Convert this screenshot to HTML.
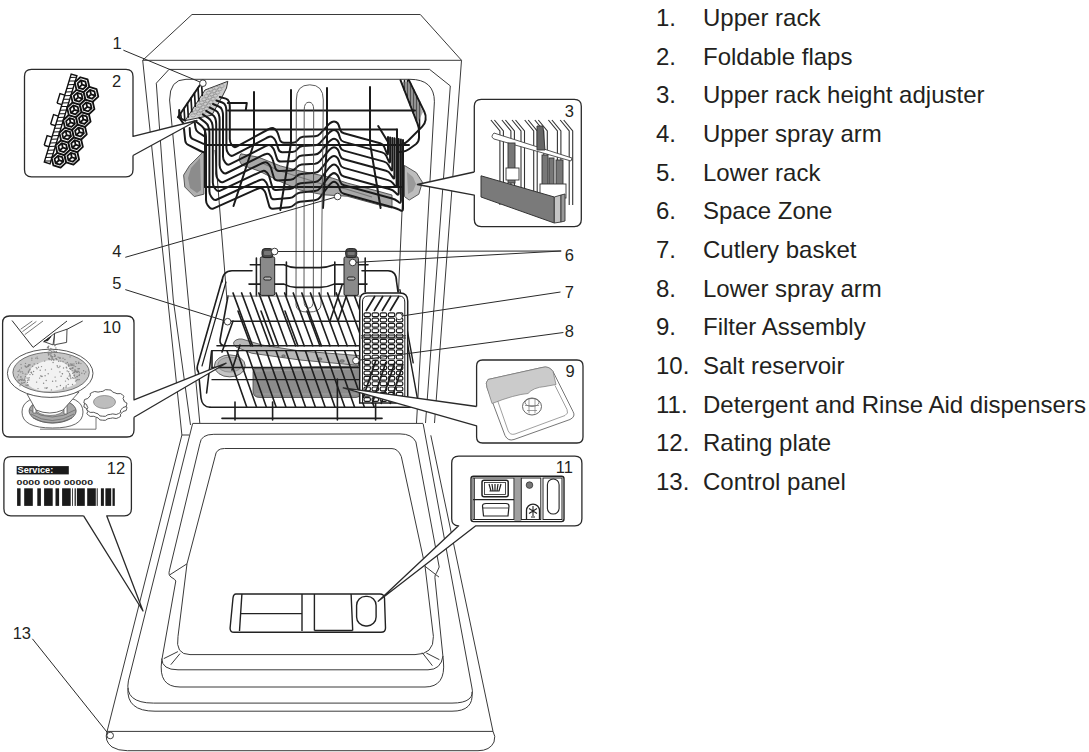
<!DOCTYPE html>
<html><head><meta charset="utf-8">
<style>
html,body{margin:0;padding:0;background:#fff;}
body{width:1089px;height:752px;overflow:hidden;position:relative;font-family:"Liberation Sans",sans-serif;}
svg{position:absolute;left:0;top:0;}
</style></head><body>
<svg width="1089" height="752" viewBox="0 0 1089 752">

<g id="body" fill="none" stroke="#3a3a3a" stroke-width="1">
<path d="M192,14.5 L420.3,14.5 L461.5,60.3 L142.7,60.3 Z"/>
<path d="M156.3,83.2 L169,69.4 L429.6,69.4 L450.3,85.9"/>
<path d="M169.6,100 Q169.6,79.3 186,79.3 L409.9,79.3 Q434.4,79.3 434.4,101.8"/>
<path d="M142.7,60.3 L181.9,435"/>
<path d="M156.3,83.2 L162.5,170 L173.3,300 L190.5,425"/>
<path d="M169.6,100 L199.8,423"/>
<path d="M461.5,60.3 L434.5,423"/>
<path d="M450.3,85.9 L425.5,423"/>
<path d="M434.4,101.8 L416.5,423"/>
<path d="M215,150 L227,300"/>
<path d="M404,165 L398.5,292"/>
</g>

<g id="door" fill="none" stroke="#3a3a3a" stroke-width="1">
<path d="M182,435 L189.2,435"/>
<path d="M192.6,423.4 L423.2,423.4"/>
<path d="M181.9,435 L107.1,731.4 Q104,741 112,747 Q118,750.7 127.4,750.7 L478,750.7 Q490,750.7 494,742 Q496,736 493,731.4 L430.8,435.3"/>
<path d="M107.1,731.4 L493,731.4"/>
<path d="M192.6,423.6 L128.4,680.9 Q124,703.1 153.6,703.1 L452,703.1 Q476,703.1 471.8,687 L423.2,424"/>
<path d="M128,688 Q126,711.2 155,711.2 L452,711.2 Q474,711.2 472,692"/>
<path d="M213.8,434.3 Q201,434.3 199.9,443.6 L169.5,570.2 Q168,575 171,577 Q175.8,579.8 175.8,581 L161.7,660.7 Q158,687 180,687 L425,687 Q446,687 443.4,661 L434.9,577.5 Q434.5,575 437,572 L439.2,567 L415.9,441.9 Q412,433.9 400,433.9 Z"/>
<path d="M224.5,448.5 Q216,448.5 215.2,456.2 L187,563.8 L178,636.4 Q175,654.6 190,654.6 L415,654.6 Q434,654.6 433.4,636.4 L425,566 L401.3,456.5 Q398,448.6 392,448.6 Z"/>
<path d="M161.7,658.6 Q162,669.8 178,669.8 L428,669.8 Q441,669.8 443,656"/>
<path d="M187,563.8 L169.5,575"/>
<path d="M163.8,658.6 L177.9,651.6 M170.8,664.7 L180,653.6"/>
<path d="M425,566.3 L439,577.1"/>
<path d="M422.2,652.6 L432.4,665.7 M426.3,653 L439.4,659.7"/>
</g>
<g fill="none" stroke="#222" stroke-width="1.4">
<path d="M236,594 L380,594 Q384,594 384.5,598 L385.5,628 Q385.5,632.3 381,632.3 L234,632.3 Q230,632.3 230.1,628 L233,598 Q233.5,594 236,594 Z"/>
<path d="M241.9,594 L239.5,631 M302,594 L302,631 M241,613.6 L302,613.6 M314.4,594 L314.4,630.5 M351.1,594 L352.7,630.5 M314.4,630.5 L352.7,630.5"/>
<rect x="356.6" y="596.4" width="19.5" height="29.6" rx="9"/>
</g>

<g id="sprayarm" stroke="#4a4a4a" stroke-width="0.9" fill="#a8a8a8" stroke-linejoin="round">
<path d="M240.9,153.8 L258.8,157.3 L280.3,165.9 L300,171 L323.3,175.8 L332.8,178.2 L347.1,183 L378.2,191.2 L392,195 L392,208 L378.2,204.7 L347.1,196.2 L323.3,194.8 L300,190 L280.3,181.6 L258.8,170.9 L242,165.1 Q237,159 240.9,153.8 Z"/>
<path d="M262,163 L280,171 L322,184 L346,189 L372,197" fill="none" stroke="#777" stroke-width="1.2"/>
<path d="M203.9,151.2 L189.6,165.5 L183.6,175.1 L184.8,187 L194.3,196.6 L203.9,194.2 Z" fill="#b0b0b0"/>
<path d="M200,158 L191,168 L188,178 L190,188 L197,193 L201,190 Z" fill="#8c8c8c" stroke="none"/>
<path d="M404.5,165.5 L416.4,172.7 L422.4,182.2 L418.8,194.2 L409.2,200.1 L404.5,196.6 Z" fill="#bdbdbd"/>
<path d="M407,172 L413,177 L416,184 L413,191 L408,194 Z" fill="#9a9a9a" stroke="none"/>
</g>
<path d="M185.2,120.6 L205,90 L227.8,81.3 L226.5,88 L222,97 L217,106 L211.8,115.2 Z" fill="#cdcdcd" stroke="#333" stroke-width="1"/>
<g fill="none" stroke="#8a8a8a" stroke-width="0.6"><ellipse cx="193.1" cy="115.4" rx="2.4" ry="1.5"/><ellipse cx="198.6" cy="113.6" rx="2.4" ry="1.5"/><ellipse cx="204.1" cy="111.8" rx="2.4" ry="1.5"/><ellipse cx="195.3" cy="112.2" rx="2.4" ry="1.5"/><ellipse cx="200.8" cy="110.4" rx="2.4" ry="1.5"/><ellipse cx="206.3" cy="108.6" rx="2.4" ry="1.5"/><ellipse cx="197.6" cy="108.9" rx="2.4" ry="1.5"/><ellipse cx="203.1" cy="107.1" rx="2.4" ry="1.5"/><ellipse cx="208.6" cy="105.3" rx="2.4" ry="1.5"/><ellipse cx="199.8" cy="105.7" rx="2.4" ry="1.5"/><ellipse cx="205.3" cy="103.9" rx="2.4" ry="1.5"/><ellipse cx="210.8" cy="102.1" rx="2.4" ry="1.5"/><ellipse cx="202.0" cy="102.5" rx="2.4" ry="1.5"/><ellipse cx="207.5" cy="100.7" rx="2.4" ry="1.5"/><ellipse cx="213.0" cy="98.9" rx="2.4" ry="1.5"/><ellipse cx="204.2" cy="99.3" rx="2.4" ry="1.5"/><ellipse cx="209.7" cy="97.5" rx="2.4" ry="1.5"/><ellipse cx="215.2" cy="95.7" rx="2.4" ry="1.5"/><ellipse cx="206.4" cy="96.1" rx="2.4" ry="1.5"/><ellipse cx="211.9" cy="94.3" rx="2.4" ry="1.5"/><ellipse cx="217.4" cy="92.5" rx="2.4" ry="1.5"/><ellipse cx="208.7" cy="92.8" rx="2.4" ry="1.5"/><ellipse cx="214.2" cy="91.0" rx="2.4" ry="1.5"/><ellipse cx="219.7" cy="89.2" rx="2.4" ry="1.5"/><ellipse cx="210.9" cy="89.6" rx="2.4" ry="1.5"/><ellipse cx="216.4" cy="87.8" rx="2.4" ry="1.5"/><ellipse cx="221.9" cy="86.0" rx="2.4" ry="1.5"/></g>
<g id="urack" fill="none" stroke="#1a1a1a" stroke-width="2" stroke-linejoin="round" stroke-linecap="round">
<path d="M185.2,120.6 L177.9,117.2 L199.8,85.3 L205,82"/>
<path d="M180.5,113.4 L181.3,118.4 M184.0,108.3 L184.8,120.0 M187.5,103.2 L188.3,117.0 M191.0,98.1 L191.8,111.6 M194.5,93.0 L195.3,106.2 M198.0,87.9 L198.8,100.8 M201.5,82.8 L202.3,95.4" stroke-width="1.7"/>
<path d="M179.2,110 L179.2,117.7 L184.8,125.3"/>
<path d="M184.0,128.8 L185.2,140.5 Q185.5,143.5 188.2,144.8 L200.4,151.0 Q202.2,151.9 204.1,152.4 L206.0,153.0"/>
<path d="M189.7,128.1 L190.1,134.9 Q190.3,137.9 193.0,139.1 L201.4,142.8 Q202.9,143.5 204.4,144.0 L206.0,144.5"/>
<path d="M194.5,121.2 L195.5,127.9 Q195.9,130.9 198.4,132.5 L205.7,137.2"/>
<path d="M400.5,80.2 L417.5,123.7 Q419.0,127.4 419.0,131.4 L419.0,137.8 Q419.0,141.8 415.8,144.2 L408.8,149.2 Q406.0,151.3 402.5,151.7 L399.0,152.0"/>
<path d="M408.9,80.2 L424.4,111.9 Q426.2,115.5 425.6,119.5 L425.6,119.8 Q425.0,123.8 422.2,126.6 L408.1,140.8 Q405.9,143.0 402.9,144.0 L400.0,145.0"/>
<path d="M404.5,80.5 L404.5,90.4 M407.5,80.5 L407.5,98.0 M410.5,83.5 L410.5,105.7 M413.5,89.6 L413.5,113.3 M416.5,95.7 L416.5,121.0 M419.5,101.8 L419.5,128.7" stroke-width="1.6"/>
<path d="M402.5,82 L418,122 L423,112 L409,82 Z" fill="#777" stroke="none" opacity="0.6"/>
<path d="M378.2,126.1 L387.7,141.6"/>
<path d="M227.8,102.9 L246.8,102.9 L245.8,109.9"/>
<path d="M228,110.5 L415,110.5"/>
<path d="M205,129.5 L397,129.5"/>
<path d="M205,145 L409,145"/>
<path d="M205,187 L402,187"/>
<path d="M205,129.5 L205,187 M397,129.5 L397,187"/>
<path d="M219.8,97.0 L225.8,98.6 Q228.2,99.3 229.0,101.7 L229.0,101.7 Q229.8,104.0 229.8,106.5 L229.8,139.0 Q229.8,142.0 231.5,144.5 L232.3,145.5 Q234.0,148.0 236.6,146.6 L267.1,130.0 Q269.0,129.0 271.0,128.2 L271.0,128.2 Q273.0,127.5 274.6,128.9 L275.0,129.2 Q277.0,131.0 277.9,133.5 L280.0,140.0 Q281.0,142.8 284.0,142.8 L293.0,142.8 Q296.0,142.8 297.7,140.3 L298.3,139.5 Q300.0,137.0 303.0,136.8 L315.0,136.2 Q318.0,136.0 320.0,133.8 L328.5,124.6 Q330.0,123.0 332.0,122.0 L332.0,122.0 Q334.0,121.0 336.0,122.0 L336.0,122.0 Q338.0,123.0 338.7,125.1 L340.1,129.6 Q341.0,132.5 343.9,133.3 L380.1,143.2 Q383.0,144.0 384.2,146.8 L386.8,153.2 Q388.0,156.0 388.0,153.0 L388.0,137.0"/>
<path d="M216.4,100.5 L222.3,102.5 Q224.7,103.4 225.6,105.8 L225.6,105.8 Q226.4,108.3 226.4,110.9 L226.4,147.7 Q226.4,150.7 228.1,153.2 L229.0,154.3 Q230.7,156.8 233.4,155.4 L265.4,138.6 Q267.3,137.6 269.3,136.8 L269.3,136.8 Q271.3,136.1 272.9,137.5 L273.3,137.8 Q275.3,139.6 276.1,142.1 L278.5,149.4 Q279.4,152.3 282.4,152.2 L292.4,152.0 Q295.4,152.0 297.2,149.5 L297.8,148.7 Q299.6,146.3 302.6,146.1 L315.0,145.3 Q318.0,145.1 320.0,142.9 L328.5,133.4 Q330.0,131.7 332.0,130.6 L332.0,130.6 Q334.0,129.6 336.0,130.6 L336.0,130.6 Q338.0,131.7 338.7,133.9 L340.1,138.3 Q341.0,141.1 343.9,141.9 L382.1,152.4 Q385.0,153.2 386.3,155.9 L388.8,161.3 Q390.1,164.0 390.1,161.0 L390.1,137.4"/>
<path d="M213.0,104.0 L218.8,106.5 Q221.3,107.5 222.1,110.0 L222.1,110.0 Q223.0,112.6 223.0,115.2 L223.0,156.4 Q223.0,159.4 224.8,161.9 L225.7,163.1 Q227.4,165.6 230.1,164.2 L263.7,147.1 Q265.6,146.1 267.6,145.4 L267.6,145.4 Q269.6,144.6 271.2,146.0 L271.6,146.4 Q273.6,148.1 274.4,150.7 L277.0,158.9 Q277.9,161.7 280.9,161.6 L291.9,161.2 Q294.9,161.1 296.7,158.8 L297.3,157.9 Q299.1,155.6 302.1,155.4 L315.0,154.5 Q318.0,154.3 320.0,152.0 L328.5,142.2 Q330.0,140.4 332.0,139.3 L332.0,139.3 Q334.0,138.1 336.0,139.3 L336.0,139.3 Q338.0,140.4 338.7,142.6 L340.1,146.9 Q341.0,149.8 343.9,150.6 L384.1,161.6 Q387.0,162.4 388.5,165.1 L390.8,169.3 Q392.3,171.9 392.3,168.9 L392.3,137.9"/>
<path d="M209.6,107.5 L215.4,110.4 Q217.8,111.6 218.7,114.2 L218.7,114.2 Q219.6,116.9 219.6,119.6 L219.6,165.1 Q219.6,168.1 221.4,170.6 L222.4,171.9 Q224.1,174.4 226.8,173.0 L261.9,155.7 Q263.9,154.7 265.9,154.0 L265.9,154.0 Q267.9,153.2 269.5,154.6 L269.9,155.0 Q271.9,156.7 272.6,159.3 L275.4,168.3 Q276.3,171.2 279.3,171.0 L291.3,170.5 Q294.3,170.3 296.2,168.0 L296.8,167.2 Q298.7,164.9 301.7,164.6 L315.0,163.7 Q318.0,163.4 319.9,161.1 L328.5,150.9 Q330.0,149.1 332.0,147.9 L332.0,147.9 Q334.0,146.7 336.0,147.9 L336.0,147.9 Q338.0,149.1 338.7,151.4 L340.1,155.6 Q341.0,158.4 343.9,159.2 L386.1,170.8 Q389.0,171.6 390.6,174.2 L392.8,177.4 Q394.4,179.9 394.4,176.9 L394.4,138.3"/>
<path d="M206.2,110.9 L211.9,114.3 Q214.4,115.7 215.3,118.4 L215.3,118.4 Q216.2,121.1 216.2,124.0 L216.2,173.9 Q216.2,176.9 218.0,179.3 L219.1,180.7 Q220.9,183.1 223.6,181.8 L260.2,164.2 Q262.1,163.3 264.1,162.5 L264.1,162.5 Q266.1,161.8 267.8,163.2 L268.1,163.5 Q270.1,165.3 270.9,167.8 L273.9,177.8 Q274.7,180.6 277.7,180.4 L290.7,179.7 Q293.7,179.5 295.7,177.2 L296.3,176.4 Q298.3,174.1 301.3,173.9 L315.0,172.8 Q318.0,172.6 319.9,170.2 L328.5,159.7 Q330.0,157.9 332.0,156.6 L332.0,156.6 Q334.0,155.3 336.0,156.6 L336.0,156.6 Q338.0,157.9 338.7,160.1 L340.1,164.2 Q341.0,167.1 343.9,167.9 L388.1,180.1 Q391.0,180.9 392.9,183.2 L394.7,185.5 Q396.6,187.9 396.6,184.9 L396.6,138.7"/>
<path d="M202.8,114.4 L208.4,118.2 Q210.9,119.8 211.9,122.6 L211.9,122.6 Q212.8,125.4 212.8,128.4 L212.8,182.6 Q212.8,185.6 214.6,188.0 L215.8,189.5 Q217.6,191.9 220.3,190.7 L258.5,172.8 Q260.4,171.9 262.4,171.1 L262.4,171.1 Q264.4,170.4 266.0,171.8 L266.4,172.1 Q268.4,173.9 269.2,176.4 L272.3,187.2 Q273.1,190.1 276.1,189.9 L290.2,188.9 Q293.1,188.7 295.2,186.4 L295.8,185.7 Q297.9,183.4 300.8,183.2 L315.0,182.0 Q318.0,181.7 319.9,179.4 L328.5,168.5 Q330.0,166.6 332.0,165.2 L332.0,165.2 Q334.0,163.9 336.0,165.2 L336.0,165.2 Q338.0,166.6 338.8,168.9 L340.1,172.9 Q341.0,175.7 343.9,176.5 L390.1,189.3 Q393.0,190.1 395.1,192.2 L396.6,193.7 Q398.7,195.9 398.7,192.9 L398.7,139.1"/>
<path d="M199.4,117.9 L205.0,122.1 Q207.5,123.9 208.4,126.7 L208.4,126.9 Q209.4,129.7 209.4,132.7 L209.4,191.3 Q209.4,194.3 211.2,196.7 L212.5,198.3 Q214.3,200.7 217.0,199.5 L256.8,181.3 Q258.7,180.4 260.7,179.7 L260.7,179.7 Q262.7,178.9 264.3,180.3 L264.7,180.7 Q266.7,182.4 267.4,185.0 L270.8,196.7 Q271.6,199.5 274.6,199.3 L289.6,198.1 Q292.6,197.8 294.6,195.7 L295.4,194.9 Q297.4,192.7 300.4,192.4 L315.0,191.1 Q318.0,190.9 319.8,188.5 L328.5,177.2 Q330.0,175.3 332.0,173.9 L332.0,173.9 Q334.0,172.4 336.0,173.9 L336.0,173.9 Q338.0,175.3 338.8,177.6 L340.1,181.5 Q341.0,184.4 343.9,185.2 L392.1,198.5 Q395.0,199.3 397.4,201.1 L398.5,202.0 Q400.9,203.8 400.9,200.8 L400.9,139.6"/>
<path d="M196.0,121.4 L201.7,126.1 Q204.0,128.0 204.9,130.8 L205.1,131.2 Q206.0,134.0 206.0,137.0 L206.0,200.0 Q206.0,203.0 207.8,205.4 L209.2,207.1 Q211.0,209.5 213.7,208.3 L255.0,189.9 Q257.0,189.0 259.0,188.2 L259.0,188.2 Q261.0,187.5 262.6,188.9 L263.0,189.2 Q265.0,191.0 265.7,193.6 L269.2,206.1 Q270.0,209.0 273.0,208.7 L289.0,207.3 Q292.0,207.0 294.1,204.9 L294.9,204.1 Q297.0,202.0 300.0,201.7 L315.0,200.3 Q318.0,200.0 319.8,197.6 L328.5,186.0 Q330.0,184.0 332.0,182.5 L332.0,182.5 Q334.0,181.0 336.0,182.5 L336.0,182.5 Q338.0,184.0 338.8,186.4 L340.1,190.2 Q341.0,193.0 343.9,193.8 L394.1,207.7 Q397.0,208.5 399.6,209.9 L400.4,210.4 Q403.0,211.8 403.0,208.8 L403.0,140.0"/>
<path d="M254,92 L254,143 L233.5,206"/>
<path d="M291,90 L291,143 L280.3,210"/>
<path d="M327,88 L327,143 L323,208"/>
<path d="M370,87 L370,143 L380.6,208"/>
</g>
<g id="lgrey" stroke="#444" stroke-width="0.8">
<path d="M256,368 L356,366 Q360,366 360,370 L360,394 Q360,397.5 356,397.5 L260,397.5 Q253,397.5 253,391 L253,372 Q253,368 256,368 Z" fill="#8c8c8c"/>
<path d="M256,371 L357,369 M256,394 L357,394" stroke="#aaa" stroke-width="0.7" fill="none"/>
<path d="M236,340 Q231,343 236,347 L251.5,353.2 L300,360 L359.7,365.5 L359.7,355.6 L300,351 L262,345 L242,339 Q239,338.5 236,340 Z" fill="#b8b8b8"/>
<g fill="#888" stroke="#555" stroke-width="0.6"><ellipse cx="283.5" cy="356" rx="1.8" ry="1.2"/><ellipse cx="320" cy="359" rx="2" ry="1.2"/><ellipse cx="342" cy="361" rx="2.4" ry="1.3"/></g>
<ellipse cx="229.8" cy="365.9" rx="15.4" ry="11" fill="#c4c4c4"/>
<ellipse cx="229.8" cy="364.6" rx="12" ry="7.5" fill="#b0b0b0" stroke="#777" stroke-width="0.6"/>
</g>
<g fill="none" stroke="#4a4a4a" stroke-width="0.9">
<path d="M296.3,100 Q296.3,84.8 309.8,84.8 Q323.3,84.8 323.3,100 L321,305 Q320.6,312.1 308.3,312.1 Q296,312.1 296,305 Z"/>
<path d="M304.2,110 Q304.2,102.2 309,102.2 Q313.7,102.2 313.7,110 L313.3,300 Q313.3,308.1 308.6,308.1 Q304,308.1 304,300 Z"/>
</g>
<g id="lrack" fill="none" stroke="#1e1e1e" stroke-width="1.6" stroke-linejoin="round" stroke-linecap="round">
<path d="M222,282 Q222.5,270.7 232,270.7 L252,270.7 M362,270.7 L388,270.7 Q396.6,270.7 396.6,282 L398,292"/>
<path d="M222,280 L197.4,366 Q196.5,370 198.5,372 L201,398 Q202.3,407.3 210,407.3"/>
<path d="M226,282 L202,366" stroke-width="1.2"/>
<path d="M228,296 L220,340 Q219.5,345.8 226,345.8"/>
<path d="M226.9,321.2 L359.7,321.2"/>
<path d="M217,345.8 L359.7,345.8"/>
<path d="M212,350.7 L359.7,350.7" stroke-width="1.3"/>
<path d="M212,367.5 L359.7,367.5" stroke-width="1.3"/>
<path d="M212,379.7 L359.7,379.7" stroke-width="1.3"/>
<path d="M210,407.3 L410,407.3"/>
<path d="M222,418.4 L382,418.4"/>
<path d="M212,350.7 L212,368"/>
<path d="M337.4,379 L337.4,420 M235,402 L235,420 M272.6,402 L272.6,420 M375.6,400 L375.6,420"/>
<path d="M250.3,264.8 L284,264.8 Q290,267.6 296,267.6 L320,267.6 Q327,267.6 334,264.8 L368,264.8"/>
<path d="M249,284.1 L284,284.1 Q290,287.4 296,287.4 L320,287.4 Q327,287.4 334,284.1 L367,284.1"/>
<path d="M256.4,258 L256.4,296 M286.4,262 L286.4,296 M334.8,262 L334.8,296 M365.2,258 L365.2,292"/>
<path d="M226.9,296.1 L359.7,296.1" stroke="#666" stroke-width="1"/>
<path d="M233.0,292.9 L252.6,345.8"/>
<path d="M241.6,292.9 L261.2,345.8"/>
<path d="M250.2,292.9 L269.8,345.8"/>
<path d="M258.8,292.9 L278.4,345.8"/>
<path d="M267.4,292.9 L287.0,345.8"/>
<path d="M276.0,292.9 L295.6,345.8"/>
<path d="M284.6,292.9 L304.2,345.8"/>
<path d="M293.2,292.9 L312.8,345.8"/>
<path d="M301.8,292.9 L321.4,345.8"/>
<path d="M310.4,292.9 L330.0,345.8"/>
<path d="M319.0,292.9 L338.6,345.8"/>
<path d="M327.6,292.9 L347.2,345.8"/>
<path d="M336.2,292.9 L355.8,345.8"/>
<path d="M344.8,292.9 L364.4,345.8"/>
<path d="M353.4,292.9 L373.0,345.8"/>
<path d="M238.0,311 L250.9,345.8"/>
<path d="M261.0,311 L273.9,345.8"/>
<path d="M285.0,311 L297.9,345.8"/>
<path d="M307.0,311 L319.9,345.8"/>
<path d="M227.0,350.7 L246.8,407.3"/>
<path d="M236.8,350.7 L256.6,407.3"/>
<path d="M246.6,350.7 L266.4,407.3"/>
<path d="M256.4,350.7 L276.2,407.3"/>
<path d="M266.2,350.7 L286.0,407.3"/>
<path d="M276.0,350.7 L295.8,407.3"/>
<path d="M285.8,350.7 L305.6,407.3"/>
<path d="M295.6,350.7 L315.4,407.3"/>
<path d="M305.4,350.7 L325.2,407.3"/>
<path d="M315.2,350.7 L335.0,407.3"/>
<path d="M325.0,350.7 L344.8,407.3"/>
<path d="M334.8,350.7 L354.6,407.3"/>
<path d="M344.6,350.7 L364.4,407.3"/>
<path d="M354.4,350.7 L374.2,407.3"/>
<path d="M330,321 L342,285"/>
<path d="M338,321 L350,285"/>
<path d="M233,321 L222,352"/>
<path d="M240,345 L232,370"/>
<path d="M399.9,289.7 L413.2,362.9 M404.9,329.7 L418.2,402.8 L410,407.3" stroke-width="1.4"/>
<path d="M211.6,351 L206.6,393"/>
</g>
<g stroke="#222" stroke-width="1"><rect x="260.3" y="256.9" width="14.4" height="38.5" rx="1.5" fill="#8a8a8a"/><rect x="262.0" y="248.6" width="11" height="9" rx="3" fill="#4a4a4a"/><rect x="264.0" y="251" width="7" height="4" rx="1" fill="#777" stroke="none"/><rect x="263.7" y="277" width="7.6" height="3" rx="1.5" fill="#bbb"/></g>
<g stroke="#222" stroke-width="1"><rect x="344.0" y="256.9" width="14.4" height="38.5" rx="1.5" fill="#8a8a8a"/><rect x="345.7" y="248.6" width="11" height="9" rx="3" fill="#4a4a4a"/><rect x="347.7" y="251" width="7" height="4" rx="1" fill="#777" stroke="none"/><rect x="347.4" y="277" width="7.6" height="3" rx="1.5" fill="#bbb"/></g>
<g id="cbasket">
<path d="M359.7,403 L359.7,301 Q359.7,292.9 367,292.9 L400,292.9 Q407.7,292.9 407.7,301 L407.7,403 Z" fill="#fff" stroke="#1e1e1e" stroke-width="1.5"/>
<path d="M362.5,403 L362.5,302 Q362.5,296 368,296 L399,296 Q404.8,296 404.8,302 L404.8,403" fill="none" stroke="#1e1e1e" stroke-width="1"/>
<g fill="#fff" stroke="#1a1a1a" stroke-width="1.15"><rect x="364.0" y="312.8" width="6.4" height="3.8" rx="1.3"/><rect x="372.1" y="312.8" width="6.4" height="3.8" rx="1.3"/><rect x="380.2" y="312.8" width="6.4" height="3.8" rx="1.3"/><rect x="388.3" y="312.8" width="6.4" height="3.8" rx="1.3"/><rect x="396.4" y="312.8" width="6.4" height="3.8" rx="1.3"/><rect x="364.0" y="318.1" width="6.4" height="3.8" rx="1.3"/><rect x="372.1" y="318.1" width="6.4" height="3.8" rx="1.3"/><rect x="380.2" y="318.1" width="6.4" height="3.8" rx="1.3"/><rect x="388.3" y="318.1" width="6.4" height="3.8" rx="1.3"/><rect x="396.4" y="318.1" width="6.4" height="3.8" rx="1.3"/><rect x="364.0" y="323.4" width="6.4" height="3.8" rx="1.3"/><rect x="372.1" y="323.4" width="6.4" height="3.8" rx="1.3"/><rect x="380.2" y="323.4" width="6.4" height="3.8" rx="1.3"/><rect x="388.3" y="323.4" width="6.4" height="3.8" rx="1.3"/><rect x="396.4" y="323.4" width="6.4" height="3.8" rx="1.3"/><rect x="364.0" y="328.7" width="6.4" height="3.8" rx="1.3"/><rect x="372.1" y="328.7" width="6.4" height="3.8" rx="1.3"/><rect x="380.2" y="328.7" width="6.4" height="3.8" rx="1.3"/><rect x="388.3" y="328.7" width="6.4" height="3.8" rx="1.3"/><rect x="396.4" y="328.7" width="6.4" height="3.8" rx="1.3"/><rect x="364.0" y="334.0" width="6.4" height="3.8" rx="1.3"/><rect x="372.1" y="334.0" width="6.4" height="3.8" rx="1.3"/><rect x="380.2" y="334.0" width="6.4" height="3.8" rx="1.3"/><rect x="388.3" y="334.0" width="6.4" height="3.8" rx="1.3"/><rect x="396.4" y="334.0" width="6.4" height="3.8" rx="1.3"/><rect x="364.0" y="339.3" width="6.4" height="3.8" rx="1.3"/><rect x="372.1" y="339.3" width="6.4" height="3.8" rx="1.3"/><rect x="380.2" y="339.3" width="6.4" height="3.8" rx="1.3"/><rect x="388.3" y="339.3" width="6.4" height="3.8" rx="1.3"/><rect x="396.4" y="339.3" width="6.4" height="3.8" rx="1.3"/><rect x="364.0" y="344.6" width="6.4" height="3.8" rx="1.3"/><rect x="372.1" y="344.6" width="6.4" height="3.8" rx="1.3"/><rect x="380.2" y="344.6" width="6.4" height="3.8" rx="1.3"/><rect x="388.3" y="344.6" width="6.4" height="3.8" rx="1.3"/><rect x="396.4" y="344.6" width="6.4" height="3.8" rx="1.3"/><rect x="364.0" y="349.9" width="6.4" height="3.8" rx="1.3"/><rect x="372.1" y="349.9" width="6.4" height="3.8" rx="1.3"/><rect x="380.2" y="349.9" width="6.4" height="3.8" rx="1.3"/><rect x="388.3" y="349.9" width="6.4" height="3.8" rx="1.3"/><rect x="396.4" y="349.9" width="6.4" height="3.8" rx="1.3"/><rect x="364.0" y="355.2" width="6.4" height="3.8" rx="1.3"/><rect x="372.1" y="355.2" width="6.4" height="3.8" rx="1.3"/><rect x="380.2" y="355.2" width="6.4" height="3.8" rx="1.3"/><rect x="388.3" y="355.2" width="6.4" height="3.8" rx="1.3"/><rect x="396.4" y="355.2" width="6.4" height="3.8" rx="1.3"/><rect x="364.0" y="360.5" width="6.4" height="3.8" rx="1.3"/><rect x="372.1" y="360.5" width="6.4" height="3.8" rx="1.3"/><rect x="380.2" y="360.5" width="6.4" height="3.8" rx="1.3"/><rect x="388.3" y="360.5" width="6.4" height="3.8" rx="1.3"/><rect x="396.4" y="360.5" width="6.4" height="3.8" rx="1.3"/><rect x="364.0" y="365.8" width="6.4" height="3.8" rx="1.3"/><rect x="372.1" y="365.8" width="6.4" height="3.8" rx="1.3"/><rect x="380.2" y="365.8" width="6.4" height="3.8" rx="1.3"/><rect x="388.3" y="365.8" width="6.4" height="3.8" rx="1.3"/><rect x="396.4" y="365.8" width="6.4" height="3.8" rx="1.3"/><rect x="364.0" y="371.1" width="6.4" height="3.8" rx="1.3"/><rect x="372.1" y="371.1" width="6.4" height="3.8" rx="1.3"/><rect x="380.2" y="371.1" width="6.4" height="3.8" rx="1.3"/><rect x="388.3" y="371.1" width="6.4" height="3.8" rx="1.3"/><rect x="396.4" y="371.1" width="6.4" height="3.8" rx="1.3"/><rect x="364.0" y="376.4" width="6.4" height="3.8" rx="1.3"/><rect x="372.1" y="376.4" width="6.4" height="3.8" rx="1.3"/><rect x="380.2" y="376.4" width="6.4" height="3.8" rx="1.3"/><rect x="388.3" y="376.4" width="6.4" height="3.8" rx="1.3"/><rect x="396.4" y="376.4" width="6.4" height="3.8" rx="1.3"/><rect x="364.0" y="381.7" width="6.4" height="3.8" rx="1.3"/><rect x="372.1" y="381.7" width="6.4" height="3.8" rx="1.3"/><rect x="380.2" y="381.7" width="6.4" height="3.8" rx="1.3"/><rect x="388.3" y="381.7" width="6.4" height="3.8" rx="1.3"/><rect x="396.4" y="381.7" width="6.4" height="3.8" rx="1.3"/><rect x="364.0" y="387.0" width="6.4" height="3.8" rx="1.3"/><rect x="372.1" y="387.0" width="6.4" height="3.8" rx="1.3"/><rect x="380.2" y="387.0" width="6.4" height="3.8" rx="1.3"/><rect x="388.3" y="387.0" width="6.4" height="3.8" rx="1.3"/><rect x="396.4" y="387.0" width="6.4" height="3.8" rx="1.3"/><rect x="364.0" y="392.3" width="6.4" height="3.8" rx="1.3"/><rect x="372.1" y="392.3" width="6.4" height="3.8" rx="1.3"/><rect x="380.2" y="392.3" width="6.4" height="3.8" rx="1.3"/><rect x="388.3" y="392.3" width="6.4" height="3.8" rx="1.3"/><rect x="396.4" y="392.3" width="6.4" height="3.8" rx="1.3"/><rect x="364.0" y="397.6" width="6.4" height="3.8" rx="1.3"/><rect x="372.1" y="397.6" width="6.4" height="3.8" rx="1.3"/><rect x="380.2" y="397.6" width="6.4" height="3.8" rx="1.3"/><rect x="388.3" y="397.6" width="6.4" height="3.8" rx="1.3"/><rect x="396.4" y="397.6" width="6.4" height="3.8" rx="1.3"/></g>
<path d="M361,335.8 L406,335.8 M361,338 L406,338" stroke="#333" stroke-width="1"/>
<g stroke="#1e1e1e" stroke-width="1.7"><path d="M366,311 L375,296 M374,311 L383,296 M382,311 L391,296 M390,311 L399,296"/><path d="M372,404 L386,362 M381,404 L395,362 M390,404 L403,364 M363,398 L376,360"/></g>
</g>
<g id="leaders" fill="none" stroke="#2a2a2a" stroke-width="1">
<path d="M123.4,50.2 L202.9,83.2"/>
<path d="M125.3,257.3 L337.6,196.5"/>
<path d="M125.3,289.6 L227.6,321.7"/>
<path d="M561.2,251 L274.6,251.5"/>
<path d="M561.2,251 L352.7,262.5"/>
<path d="M560.5,292 L399.1,316.4"/>
<path d="M563.4,332.5 L355.9,360.6"/>
<path d="M32.4,638.8 L109.6,735.4"/>
</g>
<g id="dots" fill="#fff" stroke="#2a2a2a" stroke-width="0.9">
<circle cx="202.9" cy="83.2" r="3.3"/>
<circle cx="337.6" cy="196.5" r="3.3"/>
<circle cx="227.6" cy="321.7" r="3.3"/>
<circle cx="274.6" cy="251.5" r="3.3"/>
<circle cx="352.7" cy="262.5" r="3.3"/>
<circle cx="399.1" cy="316.4" r="3.3"/>
<circle cx="355.9" cy="360.6" r="3.3"/>
<circle cx="110.2" cy="735.5" r="3.3"/>
</g>
<path d="M133,155.5 L133,169.8 Q133,176.8 126,176.8 L31.5,176.8 Q24.5,176.8 24.5,169.8 L24.5,76.4 Q24.5,69.4 31.5,69.4 L126,69.4 Q133,69.4 133,76.4 L133,136.4 L197,120.5 L133,155.5" fill="#fff" stroke="#2a2a2a" stroke-width="1.3" stroke-linejoin="round"/>
<path d="M474.3,172 L474.3,106.3 Q474.3,99.3 481.3,99.3 L574.3,99.3 Q581.3,99.3 581.3,106.3 L581.3,219.6 Q581.3,226.6 574.3,226.6 L481.3,226.6 Q474.3,226.6 474.3,219.6 L474.3,195.1 L417.4,184.5 L474.3,172" fill="#fff" stroke="#2a2a2a" stroke-width="1.3" stroke-linejoin="round"/>
<path d="M134,417.2 L134,430 Q134,437 127,437 L9.6,437 Q2.6,437 2.6,430 L2.6,323 Q2.6,316 9.6,316 L127,316 Q134,316 134,323 L134,399.9 L226.1,363.2 L134,417.2" fill="#fff" stroke="#2a2a2a" stroke-width="1.3" stroke-linejoin="round"/>
<path d="M476.6,406.5 L476.6,366 Q476.6,360 482.6,360 L577,360 Q583,360 583,366 L583,437 Q583,443 577,443 L482.6,443 Q476.6,443 476.6,437 L476.6,425.8 L343.2,387.9 L476.6,406.5" fill="#fff" stroke="#2a2a2a" stroke-width="1.3" stroke-linejoin="round"/>
<path d="M83.6,515.8 L10.9,515.8 Q3.9,515.8 3.9,508.79999999999995 L3.9,463.7 Q3.9,456.7 10.9,456.7 L124.4,456.7 Q131.4,456.7 131.4,463.7 L131.4,508.79999999999995 Q131.4,515.8 124.4,515.8 L106.7,515.8 L143,611 L83.6,515.8" fill="#fff" stroke="#2a2a2a" stroke-width="1.3" stroke-linejoin="round"/>
<path d="M458.6,525.8 L458.7,525.8 Q451.7,525.8 451.7,518.8 L451.7,463.2 Q451.7,456.2 458.7,456.2 L574.9,456.2 Q581.9,456.2 581.9,463.2 L581.9,518.8 Q581.9,525.8 574.9,525.8 L475.8,525.8 L378.2,601.2 L458.6,525.8" fill="#fff" stroke="#2a2a2a" stroke-width="1.3" stroke-linejoin="round"/>
<rect x="16.7" y="466.1" width="52.1" height="8.3" fill="#1a1a1a"/>
<text x="17.5" y="473.4" font-family="Liberation Sans, sans-serif" font-weight="bold" font-size="9.2" fill="#fff">Service:</text>
<text x="16.6" y="484.8" font-family="Liberation Sans, sans-serif" font-weight="bold" font-size="7.6" fill="#222" textLength="76.5" lengthAdjust="spacingAndGlyphs">0000 000 00000</text>
<rect x="17.1" y="488.3" width="3.5" height="17.6" fill="#1a1a1a"/>
<rect x="24.2" y="488.3" width="8.6" height="17.6" fill="#1a1a1a"/>
<rect x="37.3" y="488.3" width="3.6" height="17.6" fill="#1a1a1a"/>
<rect x="44.1" y="488.3" width="8.6" height="17.6" fill="#1a1a1a"/>
<rect x="55.5" y="488.3" width="3.6" height="17.6" fill="#1a1a1a"/>
<rect x="62.1" y="488.3" width="8.6" height="17.6" fill="#1a1a1a"/>
<rect x="72.2" y="488.3" width="0.8" height="17.6" fill="#1a1a1a"/>
<rect x="74.6" y="488.3" width="1.2" height="17.6" fill="#1a1a1a"/>
<rect x="76.9" y="488.3" width="7.9" height="17.6" fill="#1a1a1a"/>
<rect x="87.2" y="488.3" width="8.6" height="17.6" fill="#1a1a1a"/>
<rect x="96.7" y="488.3" width="1.0" height="17.6" fill="#1a1a1a"/>
<rect x="100.9" y="488.3" width="3.0" height="17.6" fill="#1a1a1a"/>
<rect x="105.4" y="488.3" width="5.8" height="17.6" fill="#1a1a1a"/>
<rect x="112.5" y="488.3" width="2.3" height="17.6" fill="#1a1a1a"/>
<g stroke="#222" stroke-width="1.6" fill="#fff">
<rect x="471" y="476.2" width="93" height="45.4" rx="2.5" fill="#fff" stroke-width="1.4"/>
<rect x="514.4" y="477" width="6.9" height="44" fill="#a0a0a0" stroke="none"/>
<rect x="473" y="478" width="41" height="41.5" fill="#fff" stroke-width="1"/>
<rect x="521.3" y="478" width="19.5" height="41.5" fill="#fff" stroke-width="1"/>
<rect x="543" y="478" width="19" height="41.5" fill="#fff" stroke-width="1"/>
<rect x="482" y="480.3" width="26.2" height="16.5" rx="2" fill="#fff" stroke-width="1.5"/>
<rect x="484.5" y="482.5" width="21" height="12" fill="#fff" stroke-width="0.8"/>
<path d="M473,499.6 L514,499.6" stroke-width="1.2"/>
<path d="M482.5,506 Q482.5,503.5 486,503.5 L506,503.5 Q509,503.5 509,506 L508,516 L483.5,516 Z" stroke-width="1.2"/>
<path d="M483,508 L508.5,508" stroke-width="0.8"/>
<path d="M474.5,478 L474.5,519" stroke-width="0.8"/>
<rect x="547.4" y="479" width="11.7" height="35" rx="5.8" stroke-width="1.1"/>
<path d="M526.5,519 L526.5,510.6 A6.5,6.5 0 0 1 539.5,510.6 L539.5,519" stroke-width="1.3"/>
</g>
<circle cx="529.5" cy="485.1" r="3.3" fill="#777" stroke="#333" stroke-width="0.8"/>
<path d="M533,506 L533,516 M529,508.5 L537,513.5 M529,513.5 L537,508.5 M531,517 L535,517" stroke="#222" stroke-width="1.1"/>
<path d="M489,484 L491,491 M492,484 L493,491 M495,484 L495,491 M498,484 L497,491 M501,484 L499,491 M489.5,491 L499.5,491" stroke="#222" stroke-width="1.2"/>
<g transform="translate(0,1.5)">
<path d="M488,378 Q485,381 487,386 L505,434 Q508,440 514,438 L570,418 Q576,415 573,410 L553,370 Q549,364 542,366 Z" fill="#fff" stroke="#666" stroke-width="0.9"/>
<path d="M492,383 L508,429 Q510,434 515,432.5 L565,414 Q569,412 567,408 L555,384" fill="none" stroke="#777" stroke-width="0.7"/>
<path d="M488,378 Q485,381 487,386 L492,402 Q515,393 528,392 Q533,386 545,385 L556,383 L553,370 Q549,364 542,366 Z" fill="#cbcbcb" stroke="#777" stroke-width="0.7"/>
<ellipse cx="532" cy="405" rx="9.5" ry="8.5" fill="#fff" stroke="#555" stroke-width="0.9"/>
<ellipse cx="532" cy="401" rx="7" ry="4" fill="none" stroke="#666" stroke-width="0.8"/>
<path d="M525,404 L539,404 M527,409 L537,409 M529,397 L529,412 M535,397 L535,412" stroke="#777" stroke-width="0.7"/>
</g>
<path d="M12,320.5 L33.1,347.4 L67,321 M43.8,341.6 L82.7,321" fill="none" stroke="#333" stroke-width="1"/>
<path d="M20.7,329.2 L32.3,321 M22.4,331.7 L36.4,321.4 M24.8,334.6 L43,321" fill="none" stroke="#555" stroke-width="0.8"/>
<path d="M54.6,333.4 L67,329.2 L66.6,342.4 L53.8,344.9 Z" fill="#fff" stroke="#333" stroke-width="0.9"/>
<path d="M43.8,341.6 L54.6,333.4 L53,344.9 Z" fill="#fff" stroke="#333" stroke-width="0.9"/>
<path d="M43.8,341.6 L51,336.5 L48,340.5 Z" fill="#222" stroke="#222" stroke-width="0.8"/>
<path d="M22,412 Q22,396 52.6,396 Q83,396 83,412 Q83,428 52.6,428 Q22,428 22,412 Z" fill="#fff" stroke="#555" stroke-width="0.9"/>
<path d="M40,429.2 L96,429.2 L96,418" fill="none" stroke="#555" stroke-width="0.8"/>
<ellipse cx="52.6" cy="411" rx="23.5" ry="12" fill="#a8a8a8" stroke="#555" stroke-width="0.9"/>
<path d="M30,410 Q52,424 75,410 M31,414 Q52,427 74,414 M33,418 Q52,428 72,418" fill="none" stroke="#666" stroke-width="0.7"/>
<ellipse cx="50" cy="409" rx="14" ry="6.5" fill="#fff" stroke="#666" stroke-width="0.7"/>
<path d="M64,404 L64,414 L67,414 L67,404 Z M33,405 L33,413 L36,413 L36,405 Z" fill="#fff" stroke="#555" stroke-width="0.7"/>
<path d="M27,394 L36,410 Q50,416 63,410 L79,392 Z" fill="#fff" stroke="#555" stroke-width="0.9"/>
<ellipse cx="50.2" cy="373.3" rx="42.8" ry="24.1" fill="#fff" stroke="#444" stroke-width="0.9"/>
<ellipse cx="51.1" cy="372.4" rx="38.2" ry="20.2" fill="#c6c6c6" stroke="#555" stroke-width="0.8"/>
<path d="M25,381 Q28,366 42,362 Q52,358 62,362 Q75,368 76,384 Q60,392 42,391 Q30,389 25,381 Z" fill="#f2f2f2" stroke="none"/>
<g fill="#888"><circle cx="32.7" cy="374.5" r="0.7"/><circle cx="41.9" cy="376.5" r="0.7"/><circle cx="59.8" cy="358.2" r="0.7"/><circle cx="34.2" cy="364.0" r="0.7"/><circle cx="85.7" cy="372.0" r="0.7"/><circle cx="74.6" cy="372.2" r="0.7"/><circle cx="60.7" cy="361.1" r="0.7"/><circle cx="60.4" cy="385.5" r="0.7"/><circle cx="52.6" cy="381.2" r="0.7"/><circle cx="63.0" cy="358.2" r="0.7"/><circle cx="69.1" cy="376.1" r="0.7"/><circle cx="37.1" cy="357.1" r="0.7"/><circle cx="76.6" cy="372.1" r="0.7"/><circle cx="66.3" cy="385.9" r="0.7"/><circle cx="66.0" cy="387.3" r="0.7"/><circle cx="43.6" cy="383.2" r="0.7"/><circle cx="47.1" cy="387.8" r="0.7"/><circle cx="25.5" cy="363.4" r="0.7"/><circle cx="83.6" cy="370.8" r="0.7"/><circle cx="59.9" cy="366.2" r="0.7"/><circle cx="51.5" cy="369.1" r="0.7"/><circle cx="40.6" cy="375.9" r="0.7"/><circle cx="56.9" cy="386.7" r="0.7"/><circle cx="63.7" cy="387.6" r="0.7"/><circle cx="63.0" cy="361.5" r="0.7"/><circle cx="79.3" cy="375.3" r="0.7"/><circle cx="66.0" cy="363.2" r="0.7"/><circle cx="74.2" cy="375.5" r="0.7"/><circle cx="35.9" cy="358.2" r="0.7"/><circle cx="22.2" cy="383.2" r="0.7"/><circle cx="44.7" cy="361.1" r="0.7"/><circle cx="36.6" cy="382.1" r="0.7"/><circle cx="59.0" cy="357.5" r="0.7"/><circle cx="66.3" cy="367.3" r="0.7"/><circle cx="51.4" cy="389.9" r="0.7"/><circle cx="37.7" cy="358.6" r="0.7"/><circle cx="58.0" cy="357.1" r="0.7"/><circle cx="29.8" cy="369.9" r="0.7"/><circle cx="58.7" cy="361.3" r="0.7"/><circle cx="38.0" cy="388.6" r="0.7"/><circle cx="78.8" cy="368.8" r="0.7"/><circle cx="48.2" cy="373.7" r="0.7"/><circle cx="61.1" cy="376.3" r="0.7"/><circle cx="55.1" cy="377.1" r="0.7"/><circle cx="81.8" cy="373.2" r="0.7"/><circle cx="46.2" cy="380.5" r="0.7"/><circle cx="32.6" cy="366.2" r="0.7"/><circle cx="84.4" cy="373.7" r="0.7"/><circle cx="54.4" cy="356.4" r="0.7"/><circle cx="45.1" cy="375.7" r="0.7"/><circle cx="17.4" cy="376.9" r="0.7"/><circle cx="60.3" cy="358.0" r="0.7"/><circle cx="59.9" cy="371.9" r="0.7"/><circle cx="63.5" cy="368.0" r="0.7"/><circle cx="65.5" cy="381.1" r="0.7"/><circle cx="63.3" cy="388.8" r="0.7"/><circle cx="33.6" cy="371.5" r="0.7"/><circle cx="57.5" cy="366.9" r="0.7"/><circle cx="41.5" cy="366.6" r="0.7"/><circle cx="41.8" cy="376.3" r="0.7"/><circle cx="37.0" cy="368.8" r="0.7"/><circle cx="70.1" cy="356.9" r="0.7"/><circle cx="55.8" cy="381.0" r="0.7"/><circle cx="37.7" cy="363.6" r="0.7"/><circle cx="72.3" cy="364.1" r="0.7"/><circle cx="29.1" cy="370.8" r="0.7"/><circle cx="64.9" cy="359.5" r="0.7"/><circle cx="38.5" cy="367.3" r="0.7"/><circle cx="74.3" cy="370.9" r="0.7"/><circle cx="75.9" cy="361.8" r="0.7"/><circle cx="39.6" cy="378.1" r="0.7"/><circle cx="77.9" cy="371.3" r="0.7"/><circle cx="31.8" cy="360.1" r="0.7"/><circle cx="53.1" cy="362.5" r="0.7"/><circle cx="72.5" cy="384.5" r="0.7"/><circle cx="28.9" cy="365.5" r="0.7"/><circle cx="72.5" cy="377.8" r="0.7"/><circle cx="72.4" cy="367.7" r="0.7"/><circle cx="25.1" cy="365.9" r="0.7"/><circle cx="71.6" cy="365.2" r="0.7"/><circle cx="40.2" cy="370.2" r="0.7"/><circle cx="45.4" cy="369.9" r="0.7"/><circle cx="46.4" cy="388.3" r="0.7"/><circle cx="80.9" cy="363.6" r="0.7"/><circle cx="68.2" cy="384.4" r="0.7"/><circle cx="62.4" cy="373.6" r="0.7"/><circle cx="36.2" cy="367.6" r="0.7"/><circle cx="31.9" cy="358.3" r="0.7"/><circle cx="57.2" cy="365.8" r="0.7"/><circle cx="79.3" cy="379.6" r="0.7"/><circle cx="79.0" cy="375.6" r="0.7"/><circle cx="28.0" cy="366.2" r="0.7"/><circle cx="62.4" cy="373.8" r="0.7"/><circle cx="45.0" cy="387.9" r="0.7"/><circle cx="58.9" cy="367.6" r="0.7"/><circle cx="49.9" cy="359.6" r="0.75"/><circle cx="52.0" cy="358.3" r="0.75"/><circle cx="50.8" cy="348.4" r="0.75"/><circle cx="52.6" cy="358.9" r="0.75"/><circle cx="49.1" cy="358.5" r="0.75"/><circle cx="56.3" cy="358.7" r="0.75"/><circle cx="55.3" cy="345.1" r="0.75"/><circle cx="53.5" cy="359.7" r="0.75"/><circle cx="48.0" cy="349.6" r="0.75"/><circle cx="50.1" cy="354.0" r="0.75"/><circle cx="51.5" cy="353.0" r="0.75"/><circle cx="54.9" cy="345.0" r="0.75"/><circle cx="48.0" cy="347.2" r="0.75"/><circle cx="48.7" cy="346.2" r="0.75"/><circle cx="56.8" cy="359.5" r="0.75"/><circle cx="48.3" cy="353.5" r="0.75"/><circle cx="50.5" cy="350.3" r="0.75"/><circle cx="50.8" cy="356.0" r="0.75"/><circle cx="53.1" cy="351.1" r="0.75"/><circle cx="49.3" cy="350.6" r="0.75"/><circle cx="48.7" cy="354.4" r="0.75"/><circle cx="54.3" cy="351.5" r="0.75"/><circle cx="48.3" cy="348.0" r="0.75"/><circle cx="51.0" cy="355.3" r="0.75"/><circle cx="54.9" cy="351.5" r="0.75"/><circle cx="55.1" cy="355.6" r="0.75"/><circle cx="51.6" cy="351.3" r="0.75"/><circle cx="52.2" cy="356.9" r="0.75"/><circle cx="51.5" cy="356.8" r="0.75"/><circle cx="51.9" cy="349.2" r="0.75"/><circle cx="52.6" cy="356.8" r="0.75"/><circle cx="48.2" cy="352.2" r="0.75"/><circle cx="51.5" cy="360.0" r="0.75"/><circle cx="56.4" cy="351.4" r="0.75"/><circle cx="56.0" cy="358.4" r="0.75"/><circle cx="50.0" cy="352.9" r="0.75"/><circle cx="48.7" cy="358.8" r="0.75"/><circle cx="53.8" cy="360.1" r="0.75"/><circle cx="55.0" cy="356.3" r="0.75"/><circle cx="54.5" cy="354.6" r="0.75"/><circle cx="48.5" cy="355.0" r="0.75"/><circle cx="47.5" cy="347.4" r="0.75"/><circle cx="54.9" cy="345.8" r="0.75"/><circle cx="48.4" cy="346.7" r="0.75"/><circle cx="55.9" cy="348.0" r="0.75"/><circle cx="18.3" cy="382.5" r="0.7"/><circle cx="67.7" cy="378.6" r="0.7"/><circle cx="27.4" cy="382.4" r="0.7"/><circle cx="79.3" cy="372.7" r="0.7"/><circle cx="29.2" cy="364.8" r="0.7"/><circle cx="76.7" cy="371.2" r="0.7"/><circle cx="28.0" cy="366.3" r="0.7"/><circle cx="76.5" cy="380.6" r="0.7"/><circle cx="18.9" cy="371.1" r="0.7"/><circle cx="73.9" cy="378.2" r="0.7"/><circle cx="21.4" cy="368.0" r="0.7"/><circle cx="69.5" cy="373.6" r="0.7"/><circle cx="28.5" cy="372.7" r="0.7"/><circle cx="71.1" cy="368.7" r="0.7"/><circle cx="22.9" cy="373.2" r="0.7"/><circle cx="67.2" cy="371.0" r="0.7"/><circle cx="31.6" cy="373.1" r="0.7"/><circle cx="76.5" cy="363.5" r="0.7"/><circle cx="27.7" cy="380.6" r="0.7"/><circle cx="75.4" cy="371.4" r="0.7"/><circle cx="24.8" cy="378.1" r="0.7"/><circle cx="78.6" cy="363.3" r="0.7"/><circle cx="19.3" cy="380.5" r="0.7"/><circle cx="78.8" cy="371.4" r="0.7"/><circle cx="24.2" cy="379.8" r="0.7"/><circle cx="68.6" cy="365.9" r="0.7"/><circle cx="20.8" cy="376.9" r="0.7"/><circle cx="70.4" cy="365.1" r="0.7"/><circle cx="27.7" cy="385.0" r="0.7"/><circle cx="70.1" cy="375.5" r="0.7"/><circle cx="23.8" cy="382.8" r="0.7"/><circle cx="74.2" cy="365.9" r="0.7"/><circle cx="21.0" cy="364.5" r="0.7"/><circle cx="72.7" cy="368.4" r="0.7"/><circle cx="20.4" cy="371.9" r="0.7"/><circle cx="70.5" cy="377.0" r="0.7"/><circle cx="20.0" cy="385.8" r="0.7"/><circle cx="72.7" cy="373.2" r="0.7"/><circle cx="24.6" cy="382.4" r="0.7"/><circle cx="77.5" cy="372.3" r="0.7"/><circle cx="24.7" cy="379.9" r="0.7"/><circle cx="78.0" cy="368.8" r="0.7"/><circle cx="28.3" cy="385.1" r="0.7"/><circle cx="72.5" cy="365.1" r="0.7"/><circle cx="21.3" cy="379.8" r="0.7"/><circle cx="75.5" cy="381.1" r="0.7"/><circle cx="30.0" cy="369.3" r="0.7"/><circle cx="68.7" cy="365.7" r="0.7"/><circle cx="20.6" cy="379.5" r="0.7"/><circle cx="78.0" cy="379.8" r="0.7"/><circle cx="21.6" cy="383.0" r="0.7"/><circle cx="70.4" cy="369.3" r="0.7"/><circle cx="28.2" cy="365.9" r="0.7"/><circle cx="67.3" cy="378.3" r="0.7"/><circle cx="22.1" cy="371.8" r="0.7"/><circle cx="74.1" cy="374.9" r="0.7"/><circle cx="18.1" cy="371.4" r="0.7"/><circle cx="72.1" cy="370.7" r="0.7"/><circle cx="20.9" cy="376.9" r="0.7"/><circle cx="79.4" cy="368.6" r="0.7"/><circle cx="25.6" cy="366.6" r="0.7"/><circle cx="69.8" cy="374.6" r="0.7"/><circle cx="19.6" cy="383.5" r="0.7"/><circle cx="78.7" cy="362.1" r="0.7"/><circle cx="31.2" cy="372.2" r="0.7"/><circle cx="76.8" cy="376.7" r="0.7"/><circle cx="22.1" cy="378.9" r="0.7"/><circle cx="75.2" cy="377.7" r="0.7"/><circle cx="21.7" cy="380.6" r="0.7"/><circle cx="79.5" cy="374.8" r="0.7"/><circle cx="25.5" cy="366.5" r="0.7"/><circle cx="72.9" cy="367.7" r="0.7"/><circle cx="28.1" cy="378.9" r="0.7"/><circle cx="73.9" cy="364.0" r="0.7"/><circle cx="27.0" cy="377.9" r="0.7"/><circle cx="68.5" cy="379.6" r="0.7"/><circle cx="27.2" cy="366.7" r="0.7"/><circle cx="79.0" cy="363.1" r="0.7"/><circle cx="22.6" cy="379.9" r="0.7"/><circle cx="74.4" cy="372.2" r="0.7"/><circle cx="27.1" cy="374.1" r="0.7"/><circle cx="70.4" cy="363.9" r="0.7"/><circle cx="19.0" cy="379.7" r="0.7"/><circle cx="76.6" cy="371.9" r="0.7"/><circle cx="28.4" cy="371.9" r="0.7"/><circle cx="69.7" cy="368.4" r="0.7"/><circle cx="30.2" cy="364.9" r="0.7"/><circle cx="73.1" cy="365.4" r="0.7"/><circle cx="28.8" cy="371.8" r="0.7"/><circle cx="70.7" cy="368.9" r="0.7"/><circle cx="25.6" cy="381.0" r="0.7"/><circle cx="70.9" cy="378.6" r="0.7"/><circle cx="19.6" cy="370.0" r="0.7"/><circle cx="67.4" cy="362.5" r="0.7"/><circle cx="28.9" cy="380.0" r="0.7"/><circle cx="68.6" cy="364.2" r="0.7"/><circle cx="23.8" cy="380.4" r="0.7"/><circle cx="77.4" cy="376.5" r="0.7"/><circle cx="26.3" cy="367.2" r="0.7"/><circle cx="71.6" cy="364.3" r="0.7"/><circle cx="25.4" cy="376.5" r="0.7"/><circle cx="68.8" cy="365.5" r="0.7"/><circle cx="28.9" cy="364.7" r="0.7"/><circle cx="77.2" cy="379.6" r="0.7"/><circle cx="31.3" cy="372.4" r="0.7"/><circle cx="73.7" cy="372.8" r="0.7"/><circle cx="26.9" cy="385.5" r="0.7"/><circle cx="75.6" cy="366.6" r="0.7"/><circle cx="30.0" cy="374.6" r="0.7"/><circle cx="74.4" cy="376.0" r="0.7"/><circle cx="18.0" cy="381.0" r="0.7"/><circle cx="75.3" cy="370.8" r="0.7"/><circle cx="25.3" cy="374.1" r="0.7"/><circle cx="68.7" cy="371.7" r="0.7"/><circle cx="18.5" cy="375.0" r="0.7"/><circle cx="75.0" cy="369.8" r="0.7"/><circle cx="25.9" cy="385.1" r="0.7"/><circle cx="78.5" cy="363.0" r="0.7"/><circle cx="29.1" cy="377.7" r="0.7"/><circle cx="66.7" cy="367.9" r="0.7"/></g>
<polygon points="126.9,403.0 126.7,404.7 126.2,406.5 123.0,407.5 121.9,408.9 120.5,410.2 120.6,412.4 118.5,413.6 116.2,414.5 112.7,413.9 110.3,414.4 107.9,414.7 105.4,416.3 102.6,416.2 99.8,415.9 98.1,413.9 95.9,413.2 93.8,412.3 90.2,412.4 88.3,411.1 86.8,409.7 87.8,407.5 87.0,406.0 86.6,404.5 83.9,403.0 84.1,401.3 84.6,399.5 87.8,398.5 88.9,397.1 90.3,395.8 90.2,393.6 92.3,392.4 94.6,391.5 98.1,392.1 100.5,391.6 102.9,391.3 105.4,389.7 108.2,389.8 111.0,390.1 112.7,392.1 114.9,392.8 117.0,393.7 120.6,393.6 122.5,394.9 124.0,396.3 123.0,398.5 123.8,400.0 124.2,401.5" fill="#fff" stroke="#444" stroke-width="0.9" transform="translate(0,4)"/>
<polygon points="126.9,403.0 126.7,404.7 126.2,406.5 123.0,407.5 121.9,408.9 120.5,410.2 120.6,412.4 118.5,413.6 116.2,414.5 112.7,413.9 110.3,414.4 107.9,414.7 105.4,416.3 102.6,416.2 99.8,415.9 98.1,413.9 95.9,413.2 93.8,412.3 90.2,412.4 88.3,411.1 86.8,409.7 87.8,407.5 87.0,406.0 86.6,404.5 83.9,403.0 84.1,401.3 84.6,399.5 87.8,398.5 88.9,397.1 90.3,395.8 90.2,393.6 92.3,392.4 94.6,391.5 98.1,392.1 100.5,391.6 102.9,391.3 105.4,389.7 108.2,389.8 111.0,390.1 112.7,392.1 114.9,392.8 117.0,393.7 120.6,393.6 122.5,394.9 124.0,396.3 123.0,398.5 123.8,400.0 124.2,401.5" fill="#fff" stroke="#444" stroke-width="0.9"/>
<ellipse cx="104.5" cy="402" rx="11" ry="6.5" fill="#bdbdbd" stroke="#777" stroke-width="0.7"/>
<g fill="none" stroke="#444" stroke-width="0.9">
<path d="M490.9,120 L499.9,131 L499.9,205 M494.4,120 L503.4,131 L503.4,205" stroke="#333" stroke-width="1.1"/>
<path d="M501.9,120 L510.9,131 L510.9,205 M505.4,120 L514.4,131 L514.4,205" stroke="#333" stroke-width="1.1"/>
<path d="M512.0,120 L521.0,131 L521.0,205 M515.5,120 L524.5,131 L524.5,205" stroke="#333" stroke-width="1.1"/>
<path d="M524.7,120 L533.7,131 L533.7,205 M528.2,120 L537.2,131 L537.2,205" stroke="#333" stroke-width="1.1"/>
<path d="M534.8,120 L543.8,131 L543.8,205 M538.3,120 L547.3,131 L547.3,205" stroke="#333" stroke-width="1.1"/>
<path d="M548.4,120 L557.4,131 L557.4,205 M551.9,120 L560.9,131 L560.9,205" stroke="#333" stroke-width="1.1"/>
<path d="M560.2,120 L569.2,131 L569.2,205 M563.7,120 L572.7,131 L572.7,205" stroke="#333" stroke-width="1.1"/>
<path d="M494,133 Q490,137 494,139 L571,161 L572,158 L497,134 Z" fill="#fff"/>
</g>
<g stroke="#333" stroke-width="0.9">
<rect x="508" y="143" width="7" height="40" fill="#777"/>
<rect x="506" y="168" width="13" height="12" fill="#fff"/>
<path d="M537,126 L543,126 L545,150 L537,150 Z" fill="#666"/>
<rect x="542" y="155" width="6" height="36" fill="#777"/>
<rect x="549" y="158" width="5" height="33" fill="#777"/>
<rect x="556" y="160" width="7" height="32" fill="#777"/>
<rect x="540" y="184" width="26" height="14" fill="#fff"/>
</g>
<path d="M481,175.8 L554.3,197 L554.3,223 L481,197 Z" fill="#7a7a7a" stroke="#333" stroke-width="1"/>
<path d="M554.3,197 L561,195 L561,222 L554.3,223 Z" fill="#c4c4c4" stroke="#333" stroke-width="0.9"/>
<path d="M561,195 L565,194 L565,221 L561,222 Z" fill="#999" stroke="#333" stroke-width="0.9"/>
<g transform="translate(74,123) rotate(-73)">
<path d="M-46,-17 L46,-17 L46,-11 L-46,-11 Z" fill="#fff" stroke="#111" stroke-width="1.4"/>
<path d="M-45.0,-17 L-43.0,-11 M-41.2,-17 L-39.2,-11 M-37.4,-17 L-35.4,-11 M-33.6,-17 L-31.6,-11 M-29.8,-17 L-27.8,-11 M-26.0,-17 L-24.0,-11 M-22.2,-17 L-20.2,-11 M-18.4,-17 L-16.4,-11 M-14.6,-17 L-12.6,-11 M-10.8,-17 L-8.8,-11 M-7.0,-17 L-5.0,-11 M-3.2,-17 L-1.2,-11 M0.6,-17 L2.6,-11 M4.4,-17 L6.4,-11 M8.2,-17 L10.2,-11 M12.0,-17 L14.0,-11 M15.8,-17 L17.8,-11 M19.6,-17 L21.6,-11 M23.4,-17 L25.4,-11 M27.2,-17 L29.2,-11 M31.0,-17 L33.0,-11 M34.8,-17 L36.8,-11 M38.6,-17 L40.6,-11 M42.4,-17 L44.4,-11" stroke="#111" stroke-width="1"/>
<path d="M-30,-22 L-20,-22 L-20,-17 M-30,-22 L-30,-17 M-8,-22 L2,-22 L2,-17 M-8,-22 L-8,-17 M14,-22 L24,-22 L24,-17 M14,-22 L14,-17" fill="none" stroke="#111" stroke-width="1.4"/>
<g fill="#fff" stroke="#111" stroke-width="1.8" stroke-linejoin="round"><polygon points="-33.4,0.3 -40.0,4.1 -46.6,0.3 -46.6,-7.3 -40.0,-11.1 -33.4,-7.3"/><polygon points="-36.1,-1.2 -40.0,1.1 -43.9,-1.2 -43.9,-5.8 -40.0,-8.1 -36.1,-5.8"/><path d="M-40.0,-3.5 L-40.0,1.1 M-40.0,-3.5 L-43.9,-5.8 M-40.0,-3.5 L-36.1,-5.8"/><polygon points="-20.3,0.3 -26.8,4.1 -33.4,0.3 -33.4,-7.3 -26.8,-11.1 -20.3,-7.3"/><polygon points="-22.9,-1.2 -26.8,1.1 -30.8,-1.2 -30.8,-5.8 -26.8,-8.1 -22.9,-5.8"/><path d="M-26.8,-3.5 L-26.8,1.1 M-26.8,-3.5 L-30.8,-5.8 M-26.8,-3.5 L-22.9,-5.8"/><polygon points="-7.1,0.3 -13.7,4.1 -20.3,0.3 -20.3,-7.3 -13.7,-11.1 -7.1,-7.3"/><polygon points="-9.7,-1.2 -13.7,1.1 -17.6,-1.2 -17.6,-5.8 -13.7,-8.1 -9.7,-5.8"/><path d="M-13.7,-3.5 L-13.7,1.1 M-13.7,-3.5 L-17.6,-5.8 M-13.7,-3.5 L-9.7,-5.8"/><polygon points="6.1,0.3 -0.5,4.1 -7.1,0.3 -7.1,-7.3 -0.5,-11.1 6.1,-7.3"/><polygon points="3.4,-1.2 -0.5,1.1 -4.5,-1.2 -4.5,-5.8 -0.5,-8.1 3.4,-5.8"/><path d="M-0.5,-3.5 L-0.5,1.1 M-0.5,-3.5 L-4.5,-5.8 M-0.5,-3.5 L3.4,-5.8"/><polygon points="19.2,0.3 12.7,4.1 6.1,0.3 6.1,-7.3 12.7,-11.1 19.2,-7.3"/><polygon points="16.6,-1.2 12.7,1.1 8.7,-1.2 8.7,-5.8 12.7,-8.1 16.6,-5.8"/><path d="M12.7,-3.5 L12.7,1.1 M12.7,-3.5 L8.7,-5.8 M12.7,-3.5 L16.6,-5.8"/><polygon points="32.4,0.3 25.8,4.1 19.2,0.3 19.2,-7.3 25.8,-11.1 32.4,-7.3"/><polygon points="29.8,-1.2 25.8,1.1 21.9,-1.2 21.9,-5.8 25.8,-8.1 29.8,-5.8"/><path d="M25.8,-3.5 L25.8,1.1 M25.8,-3.5 L21.9,-5.8 M25.8,-3.5 L29.8,-5.8"/><polygon points="45.6,0.3 39.0,4.1 32.4,0.3 32.4,-7.3 39.0,-11.1 45.6,-7.3"/><polygon points="42.9,-1.2 39.0,1.1 35.0,-1.2 35.0,-5.8 39.0,-8.1 42.9,-5.8"/><path d="M39.0,-3.5 L39.0,1.1 M39.0,-3.5 L35.0,-5.8 M39.0,-3.5 L42.9,-5.8"/><polygon points="-26.8,11.7 -33.4,15.5 -40.0,11.7 -40.0,4.1 -33.4,0.3 -26.8,4.1"/><polygon points="-29.5,10.2 -33.4,12.5 -37.4,10.2 -37.4,5.6 -33.4,3.3 -29.5,5.6"/><path d="M-33.4,7.9 L-33.4,12.5 M-33.4,7.9 L-37.4,5.6 M-33.4,7.9 L-29.5,5.6"/><polygon points="-13.7,11.7 -20.3,15.5 -26.8,11.7 -26.8,4.1 -20.3,0.3 -13.7,4.1"/><polygon points="-16.3,10.2 -20.3,12.5 -24.2,10.2 -24.2,5.6 -20.3,3.3 -16.3,5.6"/><path d="M-20.3,7.9 L-20.3,12.5 M-20.3,7.9 L-24.2,5.6 M-20.3,7.9 L-16.3,5.6"/><polygon points="-0.5,11.7 -7.1,15.5 -13.7,11.7 -13.7,4.1 -7.1,0.3 -0.5,4.1"/><polygon points="-3.1,10.2 -7.1,12.5 -11.0,10.2 -11.0,5.6 -7.1,3.3 -3.1,5.6"/><path d="M-7.1,7.9 L-7.1,12.5 M-7.1,7.9 L-11.0,5.6 M-7.1,7.9 L-3.1,5.6"/><polygon points="12.7,11.7 6.1,15.5 -0.5,11.7 -0.5,4.1 6.1,0.3 12.7,4.1"/><polygon points="10.0,10.2 6.1,12.5 2.1,10.2 2.1,5.6 6.1,3.3 10.0,5.6"/><path d="M6.1,7.9 L6.1,12.5 M6.1,7.9 L2.1,5.6 M6.1,7.9 L10.0,5.6"/><polygon points="25.8,11.7 19.2,15.5 12.7,11.7 12.7,4.1 19.2,0.3 25.8,4.1"/><polygon points="23.2,10.2 19.2,12.5 15.3,10.2 15.3,5.6 19.2,3.3 23.2,5.6"/><path d="M19.2,7.9 L19.2,12.5 M19.2,7.9 L15.3,5.6 M19.2,7.9 L23.2,5.6"/><polygon points="39.0,11.7 32.4,15.5 25.8,11.7 25.8,4.1 32.4,0.3 39.0,4.1"/><polygon points="36.3,10.2 32.4,12.5 28.5,10.2 28.5,5.6 32.4,3.3 36.3,5.6"/><path d="M32.4,7.9 L32.4,12.5 M32.4,7.9 L28.5,5.6 M32.4,7.9 L36.3,5.6"/></g>
</g>
<g font-family="Liberation Sans, sans-serif" font-size="16.5" fill="#231f20">
<text x="112.6" y="48.5">1</text>
<text x="112.0" y="87">2</text>
<text x="564.7" y="116.5">3</text>
<text x="112.2" y="256.6">4</text>
<text x="112.2" y="289.2">5</text>
<text x="564.8" y="260.5">6</text>
<text x="564.8" y="297.8">7</text>
<text x="564.8" y="336.5">8</text>
<text x="565.5" y="376.6">9</text>
<text x="102.5" y="332.5">10</text>
<text x="555.8" y="473.4">11</text>
<text x="106.8" y="473.8">12</text>
<text x="12.7" y="638.8">13</text>
</g>
<g id="list" font-family="Liberation Sans, sans-serif" font-size="24" fill="#231f20">
<text x="656" y="25.8">1.</text><text x="703" y="25.8">Upper rack</text>
<text x="656" y="64.5">2.</text><text x="703" y="64.5">Foldable flaps</text>
<text x="656" y="103.2">3.</text><text x="703" y="103.2">Upper rack height adjuster</text>
<text x="656" y="141.8">4.</text><text x="703" y="141.8">Upper spray arm</text>
<text x="656" y="180.5">5.</text><text x="703" y="180.5">Lower rack</text>
<text x="656" y="219.2">6.</text><text x="703" y="219.2">Space Zone</text>
<text x="656" y="257.9">7.</text><text x="703" y="257.9">Cutlery basket</text>
<text x="656" y="296.6">8.</text><text x="703" y="296.6">Lower spray arm</text>
<text x="656" y="335.2">9.</text><text x="703" y="335.2">Filter Assembly</text>
<text x="656" y="373.9">10.</text><text x="703" y="373.9">Salt reservoir</text>
<text x="656" y="412.6">11.</text><text x="703" y="412.6">Detergent and Rinse Aid dispensers</text>
<text x="656" y="451.3">12.</text><text x="703" y="451.3">Rating plate</text>
<text x="656" y="490.0">13.</text><text x="703" y="490.0">Control panel</text>
</g>
</svg>
</body></html>
